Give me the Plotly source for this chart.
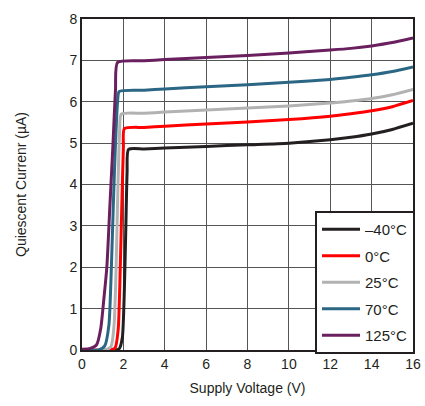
import plotly.graph_objects as go

names = ["\u201340\u00b0C", "0\u00b0C", "25\u00b0C", "70\u00b0C", "125\u00b0C"]
colors = ["#231f20", "#ff0000", "#b2b2b2", "#2b6784", "#6a1f5f"]

x_m40 = [0, 1.5, 1.8, 1.95, 2.05, 2.12, 2.18, 2.25, 3, 4, 6, 8, 10, 12, 13, 14, 15, 16]
y_m40 = [0, 0.0, 0.03, 0.3, 1.5, 3.0, 4.3, 4.85, 4.86, 4.88, 4.92, 4.96, 5.0, 5.08, 5.14, 5.22, 5.33, 5.48]

x_0 = [0, 1.3, 1.6, 1.75, 1.85, 1.93, 2.0, 2.05, 3, 4, 6, 8, 10, 12, 13, 14, 15, 16]
y_0 = [0, 0.0, 0.05, 0.5, 2.0, 3.6, 4.9, 5.35, 5.38, 5.41, 5.46, 5.51, 5.57, 5.65, 5.71, 5.78, 5.88, 6.03]

x_25 = [0, 1.1, 1.4, 1.55, 1.65, 1.73, 1.82, 1.9, 3, 4, 6, 8, 10, 12, 13, 14, 15, 16]
y_25 = [0, 0.0, 0.08, 0.6, 2.0, 3.8, 5.3, 5.7, 5.72, 5.75, 5.8, 5.85, 5.9, 5.97, 6.02, 6.08, 6.17, 6.3]

x_70 = [0, 0.8, 1.1, 1.3, 1.42, 1.52, 1.62, 1.72, 1.8, 3, 4, 6, 8, 10, 12, 13, 14, 15, 16]
y_70 = [0, 0.0, 0.1, 0.6, 2.0, 3.6, 5.0, 6.0, 6.25, 6.28, 6.31, 6.36, 6.41, 6.47, 6.54, 6.59, 6.65, 6.73, 6.84]

x_125 = [0, 0.4, 0.7, 0.9, 1.05, 1.2, 1.35, 1.5, 1.62, 1.72, 3, 4, 6, 8, 10, 12, 13, 14, 15, 16]
y_125 = [0.02, 0.04, 0.12, 0.5, 1.2, 2.0, 3.5, 5.0, 6.3, 6.95, 6.99, 7.02, 7.07, 7.12, 7.18, 7.25, 7.29, 7.35, 7.43, 7.54]

xs = [x_m40, x_0, x_25, x_70, x_125]
ys = [y_m40, y_0, y_25, y_70, y_125]

fig = go.Figure()
for i, (n, c, x, y) in enumerate(zip(names, colors, xs, ys)):
    fig.add_trace(go.Scatter(x=x, y=y, mode="lines", name=n, legendgroup=f"g{i}",
                             line=dict(color=c, width=3, shape="spline", smoothing=0.6)))

font = "Liberation Sans, Arial, sans-serif"
fig.update_layout(
    width=425, height=406,
    margin=dict(l=82, r=11, t=19, b=56),
    paper_bgcolor="white", plot_bgcolor="white",
    font=dict(family=font, size=14, color="#231f20"),
    showlegend=True,
    legend=dict(x=1.003, y=-0.012, xanchor="right", yanchor="bottom",
                bgcolor="white", bordercolor="#231f20", borderwidth=2,
                font=dict(family=font, size=15, color="#231f20"),
                itemwidth=38, tracegroupgap=4, traceorder="grouped"),
    xaxis=dict(range=[0, 16], dtick=2, showgrid=True, gridcolor="#555555", gridwidth=1,
               showline=True, linecolor="#231f20", linewidth=2, mirror=True,
               zeroline=False, ticks="", tickfont=dict(size=14), automargin=False,
               title=dict(text="Supply Voltage (V)", font=dict(size=14), standoff=12)),
    yaxis=dict(range=[0, 8], dtick=1, showgrid=True, gridcolor="#555555", gridwidth=1,
               showline=True, linecolor="#231f20", linewidth=2, mirror=True,
               zeroline=False, ticks="", tickfont=dict(size=14), automargin=False,
               title=dict(text="Quiescent Currenr (\u00b5A)", font=dict(size=14), standoff=40)),
)

fig.write_html("out.html", config={"displayModeBar": False},
               post_script="document.body.style.margin='0';document.body.style.overflow='hidden';")
